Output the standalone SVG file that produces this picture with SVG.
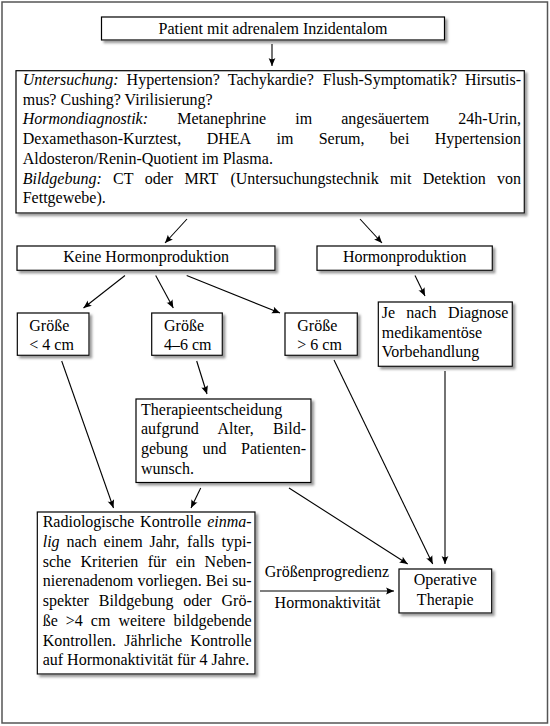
<svg xmlns="http://www.w3.org/2000/svg" width="550" height="726" viewBox="0 0 550 726">
<style>
text{font-family:"Liberation Serif","Times New Roman",serif;font-size:16px;fill:#000}
.i{font-style:italic}
.c{text-anchor:middle}
.box{fill:#fff;stroke:#000;stroke-width:1.2;filter:url(#sh)}
.con line{stroke:#000;stroke-width:1.1;marker-end:url(#ah)}
</style>
<defs>
<filter id="sh" x="-10%" y="-10%" width="130%" height="140%">
<feDropShadow dx="2.5" dy="2.5" stdDeviation="1" flood-color="#888" flood-opacity="0.85"/>
</filter>
<marker id="ah" viewBox="-9 -5 10 10" refX="0" refY="0" markerWidth="10" markerHeight="10" markerUnits="userSpaceOnUse" orient="auto">
<path d="M0,0 L-8,-3.4 Q-5.5,0 -8,3.4 Z" fill="#000"/>
</marker>
</defs>
<rect x="2" y="2" width="545.5" height="721" fill="#fff" stroke="#555" stroke-width="1.5"/>

<g id="n-start">
<rect class="box" x="101.5" y="17" width="343" height="23"/>
<text class="c" x="273" y="33.5">Patient mit adrenalem Inzidentalom</text>
</g>

<g id="n-untersuchung">
<rect class="box" x="16" y="70.7" width="508.3" height="142.3"/>
<text y="85"><tspan x="22.7" class="i">Untersuchung:</tspan><tspan x="126.6">Hypertension?</tspan><tspan x="227.84">Tachykardie?</tspan><tspan x="322.84">Flush-Symptomatik?</tspan><tspan x="465">Hirsutis-</tspan></text>
<text x="22.7" y="104.7">mus? Cushing? Virilisierung?</text>
<text y="124.4"><tspan x="22.7" class="i">Hormondiagnostik:</tspan><tspan x="177.18">Metanephrine</tspan><tspan x="295.19">im</tspan><tspan x="341.24">angesäuertem</tspan><tspan x="458.36">24h-Urin,</tspan></text>
<text y="144.1"><tspan x="22.7">Dexamethason-Kurztest,</tspan><tspan x="206.68">DHEA</tspan><tspan x="276.47">im</tspan><tspan x="318.73">Serum,</tspan><tspan x="389.87">bei</tspan><tspan x="434.78">Hypertension</tspan></text>
<text x="22.7" y="163.8">Aldosteron/Renin-Quotient im Plasma.</text>
<text y="183.5"><tspan x="22.7" class="i">Bildgebung:</tspan><tspan x="113.06">CT</tspan><tspan x="144.77">oder</tspan><tspan x="184.46">MRT</tspan><tspan x="230.39">(Untersuchungstechnik</tspan><tspan x="390.07">mit</tspan><tspan x="422.67">Detektion</tspan><tspan x="497.03">von</tspan></text>
<text x="22.7" y="203.2">Fettgewebe).</text>
</g>

<g id="n-keine">
<rect class="box" x="17" y="246" width="258" height="24.3"/>
<text class="c" x="146" y="261.5">Keine Hormonproduktion</text>
</g>

<g id="n-hormon">
<rect class="box" x="317" y="246" width="175.3" height="24.3"/>
<text class="c" x="404.7" y="261.5">Hormonproduktion</text>
</g>

<g id="n-g4">
<rect class="box" x="17.3" y="313" width="71.7" height="42.3"/>
<text x="29.3" y="330.7">Größe</text>
<text x="29.3" y="349.7">&lt; 4 cm</text>
</g>

<g id="n-g46">
<rect class="box" x="151.7" y="313" width="70.6" height="42.3"/>
<text x="164" y="330.7">Größe</text>
<text x="164" y="349.7">4–6 cm</text>
</g>

<g id="n-g6">
<rect class="box" x="285" y="313" width="72.3" height="42.3"/>
<text x="297.3" y="330.7">Größe</text>
<text x="297.3" y="349.7">&gt; 6 cm</text>
</g>

<g id="n-vorbehandlung">
<rect class="box" x="378.3" y="302" width="134" height="64.3"/>
<text y="318"><tspan x="381.7">Je</tspan><tspan x="406.35">nach</tspan><tspan x="447.88">Diagnose</tspan></text>
<text x="381.7" y="337.7">medikamentöse</text>
<text x="381.7" y="357.4">Vorbehandlung</text>
</g>

<g id="n-therapieentscheidung">
<rect class="box" x="136" y="399" width="175" height="83.5"/>
<text x="141" y="414.5">Therapieentscheidung</text>
<text y="434.2"><tspan x="141">aufgrund</tspan><tspan x="217.49">Alter,</tspan><tspan x="273.1">Bild-</tspan></text>
<text y="453.9"><tspan x="141">gebung</tspan><tspan x="202.61">und</tspan><tspan x="241.12">Patienten-</tspan></text>
<text x="141" y="473.6">wunsch.</text>
</g>

<g id="n-radiologisch">
<rect class="box" x="37.3" y="512" width="217.7" height="162"/>
<text y="527.3"><tspan x="42.7">Radiologische</tspan><tspan x="140.1">Kontrolle</tspan><tspan x="207.28" class="i">einma-</tspan></text>
<text y="547"><tspan x="42.7" class="i">lig</tspan><tspan x="66.47">nach</tspan><tspan x="103.55">einem</tspan><tspan x="149.52">Jahr,</tspan><tspan x="187.05">falls</tspan><tspan x="221.47">typi-</tspan></text>
<text y="566.7"><tspan x="42.7">sche</tspan><tspan x="80.51">Kriterien</tspan><tspan x="147.65">für</tspan><tspan x="175.69">ein</tspan><tspan x="204.62">Neben-</tspan></text>
<text y="586.4"><tspan x="42.7">nierenadenom</tspan><tspan x="137.39">vorliegen.</tspan><tspan x="205.87">Bei</tspan><tspan x="232.14">su-</tspan></text>
<text y="606.1"><tspan x="42.7">spekter</tspan><tspan x="98.74">Bildgebung</tspan><tspan x="183.24">oder</tspan><tspan x="221.5">Grö-</tspan></text>
<text y="625.8"><tspan x="42.7">ße</tspan><tspan x="65.81">&gt;4</tspan><tspan x="90.84">cm</tspan><tspan x="118.4">weitere</tspan><tspan x="173.5">bildgebende</tspan></text>
<text y="645.5"><tspan x="42.7">Kontrollen.</tspan><tspan x="124.32">Jährliche</tspan><tspan x="190.37">Kontrolle</tspan></text>
<text x="42.7" y="665.2">auf Hormonaktivität für 4 Jahre.</text>
</g>

<g id="n-operativ">
<rect class="box" x="399" y="569" width="92.7" height="44"/>
<text class="c" x="445.3" y="585">Operative</text>
<text class="c" x="445.3" y="605">Therapie</text>
</g>

<g id="connectors" class="con">
<line x1="272" y1="44" x2="272" y2="66"/>
<line x1="187" y1="219" x2="165" y2="243"/>
<line x1="360" y1="219" x2="382" y2="243"/>
<line x1="125" y1="275.5" x2="83.5" y2="308"/>
<line x1="155.7" y1="275.5" x2="173.3" y2="308"/>
<line x1="186.7" y1="275.5" x2="280" y2="313"/>
<line x1="415" y1="275.5" x2="425" y2="296"/>
<line x1="61.7" y1="361" x2="113.5" y2="508"/>
<line x1="196.7" y1="361" x2="207" y2="394"/>
<line x1="200.7" y1="488" x2="191" y2="508"/>
<line x1="289" y1="488" x2="407.7" y2="564"/>
<line x1="334" y1="360" x2="432.7" y2="564"/>
<line x1="445" y1="371" x2="445" y2="564"/>
<line x1="260" y1="591" x2="394" y2="591"/>
</g>
<g id="edge-labels">
<text class="c" x="327" y="577">Größenprogredienz</text>
<text class="c" x="327.5" y="608">Hormonaktivität</text>
</g>
</svg>
